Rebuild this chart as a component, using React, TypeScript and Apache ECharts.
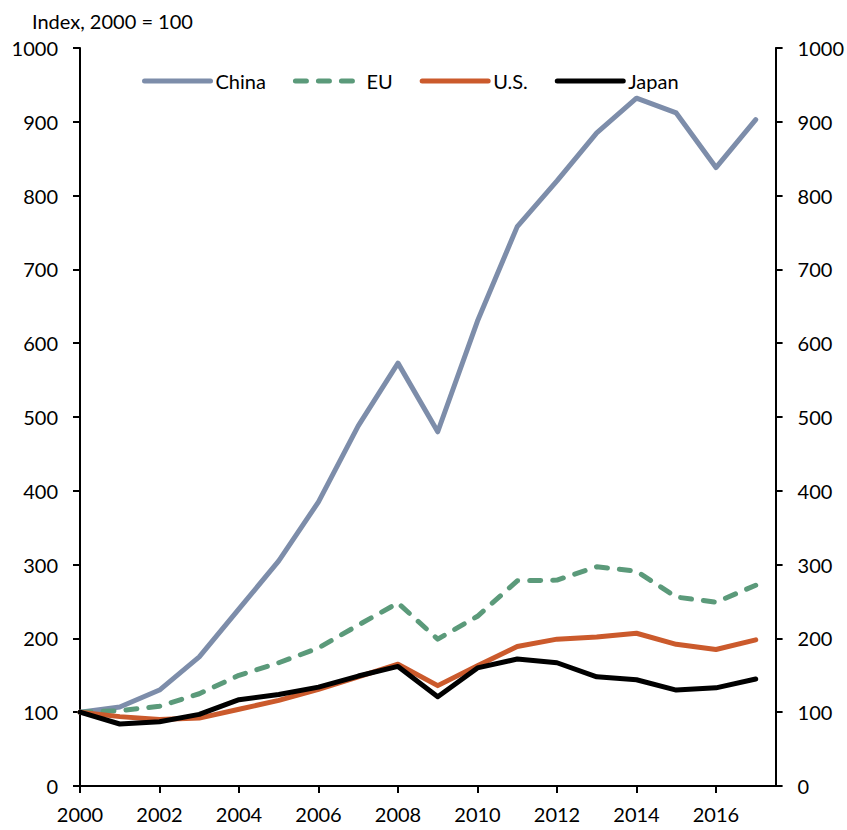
import React, { useEffect, useRef } from "react";
import * as echarts from "echarts";

const years = [2000, 2001, 2002, 2003, 2004, 2005, 2006, 2007, 2008, 2009, 2010, 2011, 2012, 2013, 2014, 2015, 2016, 2017];
const china = [100, 107, 130, 175, 240, 305, 385, 488, 573, 480, 630, 758, 820, 885, 932, 912, 838, 903];
const eu = [100, 102, 108, 125, 150, 167, 187, 218, 248, 199, 230, 278, 279, 297, 291, 256, 249, 272];
const us = [100, 94, 90, 92, 104, 116, 131, 148, 165, 136, 163, 189, 199, 202, 207, 192, 185, 198];
const japan = [100, 84, 87, 97, 117, 124, 134, 149, 162, 121, 160, 172, 167, 148, 144, 130, 133, 145];
const xTicks = [2000, 2002, 2004, 2006, 2008, 2010, 2012, 2014, 2016];

const FONT = "Lato, 'Open Sans', sans-serif";

export default function App() {
  const ref = useRef<HTMLDivElement>(null);
  useEffect(() => {
    document.body.style.margin = "0";
    if (!ref.current) return;
    const chart = echarts.init(ref.current, null, { renderer: "svg" });
    const mk = (name: string, data: number[], color: string, type: any) => ({
      name,
      type: "line",
      data: years.map((y, i) => [y, data[i]]),
      symbol: "none",
      lineStyle: { color, width: 5, type, cap: "round", join: "round" },
      itemStyle: { color },
      z: 2,
    });
    const axisLine = { show: true, lineStyle: { color: "#000", width: 2 } };
    const axisTick = { show: true, length: 7, lineStyle: { color: "#000", width: 2 } };
    const yLabel = {
      fontFamily: FONT,
      fontSize: 20,
      color: "#000",
      margin: 22,
      formatter: (v: number) => String(v),
    };
    chart.setOption({
      animation: false,
      backgroundColor: "#fff",
      textStyle: { fontFamily: FONT },
      title: {
        text: "Index, 2000 = 100",
        left: 27,
        top: 6,
        textStyle: { fontFamily: FONT, fontSize: 20, fontWeight: "normal", color: "#000" },
      },
      legend: {
        left: 137,
        top: 66,
        itemWidth: 66,
        itemHeight: 14,
        itemGap: 27,
        itemStyle: { opacity: 0 },
        lineStyle: { width: 5, cap: "round" },
        textStyle: { fontFamily: FONT, fontSize: 20, color: "#000" },
        data: ["China", "EU", "U.S.", "Japan"],
      },
      grid: { left: 80, right: 71, top: 48, bottom: 44, containLabel: false },
      xAxis: {
        type: "value",
        min: 2000,
        max: 2017.5,
        interval: 2,
        axisLine,
        axisTick: { ...axisTick, customValues: xTicks },
        splitLine: { show: false },
        axisLabel: {
          customValues: xTicks,
          fontFamily: FONT,
          fontSize: 20,
          color: "#000",
          margin: 18,
          formatter: (v: number) => String(v),
        },
      },
      yAxis: [
        {
          type: "value",
          position: "left",
          min: 0,
          max: 1000,
          interval: 100,
          axisLine,
          axisTick,
          splitLine: { show: false },
          axisLabel: yLabel,
        },
        {
          type: "value",
          position: "right",
          min: 0,
          max: 1000,
          interval: 100,
          axisLine,
          axisTick,
          splitLine: { show: false },
          axisLabel: yLabel,
        },
      ],
      series: [
        mk("China", china, "#7D8DAA", "solid"),
        mk("EU", eu, "#5B9A7A", [11, 12]),
        mk("U.S.", us, "#CB5A2C", "solid"),
        mk("Japan", japan, "#000000", "solid"),
      ],
    });
    return () => chart.dispose();
  }, []);
  return <div ref={ref} style={{ width: 847, height: 830 }} />;
}
